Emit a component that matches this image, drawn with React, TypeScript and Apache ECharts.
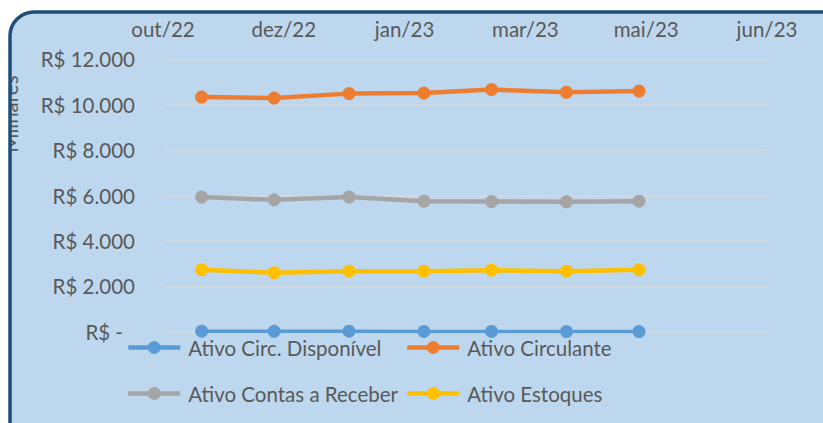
import React, { useEffect, useRef } from "react";
import * as echarts from "echarts";

const axisStart = "2022-10-15";
const axisSpanDays = 250;
const tickStepDays = 50;
const monthNames = ["jan", "fev", "mar", "abr", "mai", "jun", "jul", "ago", "set", "out", "nov", "dez"];
const dates = ["2022-10-31", "2022-11-30", "2022-12-31", "2023-01-31", "2023-02-28", "2023-03-31", "2023-04-30"];

const seriesNames = ["Ativo Circ. Disponível", "Ativo Circulante", "Ativo Contas a Receber", "Ativo Estoques"];
const disponivel = [20, 15, 25, 10, 10, 5, 5];
const circulante = [10337, 10293, 10488, 10514, 10665, 10545, 10603];
const contasReceber = [5929, 5810, 5929, 5752, 5735, 5721, 5752];
const estoques = [2727, 2594, 2665, 2665, 2710, 2665, 2727];
const colors = ["#5B9BD5", "#ED7D31", "#A5A5A5", "#FFC000"];

const DAY = 86400000;
const startMs = Date.parse(axisStart + "T00:00:00Z");
const toDay = (d: string) => Math.round((Date.parse(d + "T00:00:00Z") - startMs) / DAY);
const fmtDate = (v: number) => {
  const dt = new Date(startMs + v * DAY);
  return monthNames[dt.getUTCMonth()] + "/" + String(dt.getUTCFullYear()).slice(2);
};
const fmtMoney = (v: number) =>
  v === 0 ? "{z|R$ -}" : "R$ " + String(v).replace(/\B(?=(\d{3})+(?!\d))/g, ".");

const FONT = "Lato, 'Open Sans', sans-serif";
const FS = 20.5;
const TXT = "#595959";

export default function App() {
  const ref = useRef<HTMLDivElement>(null);
  useEffect(() => {
    if (!ref.current) return;
    const chart = echarts.init(ref.current, undefined, { renderer: "svg" });
    const allValues = [disponivel, circulante, contasReceber, estoques];
    const series = allValues.map((vals, i) => ({
      name: seriesNames[i],
      type: "line",
      data: vals.map((v, j) => [toDay(dates[j]), v]),
      symbol: "circle",
      symbolSize: 13,
      showSymbol: true,
      lineStyle: { width: i === 0 ? 3.5 : 4.5, color: colors[i] },
      itemStyle: { color: colors[i] },
      z: 3,
    }));
    const legendCommon = {
      orient: "vertical",
      padding: 0,
      itemWidth: 52,
      itemHeight: 16,
      itemGap: 25,
      top: 337,
      lineStyle: { width: 4.5 },
      textStyle: { color: TXT, fontSize: FS, fontFamily: FONT, lineHeight: 20, padding: [0, 0, 0, 3] },
    };
    chart.setOption({
      animation: false,
      backgroundColor: "#FFFFFF",
      textStyle: { fontFamily: FONT },
      graphic: [
        {
          type: "rect",
          z: -10,
          shape: { x: 10, y: 12, width: 840, height: 450, r: 24 },
          style: { fill: "#BDD7EE" },
        },
        {
          type: "text",
          z: -9,
          x: 10,
          y: 114,
          rotation: Math.PI / 2,
          style: {
            text: "Milhares",
            fill: TXT,
            font: FS + "px " + FONT,
            align: "center",
            verticalAlign: "middle",
          },
        },
        {
          type: "rect",
          z: -8,
          shape: { x: 0, y: 0, width: 10, height: 423 },
          style: { fill: "#FFFFFF" },
        },
        {
          type: "rect",
          z: -7,
          shape: { x: 10, y: 12, width: 840, height: 450, r: 24 },
          style: { fill: "none", stroke: "#1F4E79", lineWidth: 3.5 },
        },
      ],
      grid: { left: 163, right: 56, top: 59.3, bottom: 91.3, containLabel: false },
      xAxis: {
        type: "value",
        position: "top",
        min: 0,
        max: axisSpanDays,
        interval: tickStepDays,
        axisLine: { show: false },
        axisTick: { show: false },
        splitLine: { show: false },
        axisLabel: { color: TXT, fontSize: FS, fontFamily: FONT, margin: 20, formatter: fmtDate },
      },
      yAxis: {
        type: "value",
        min: 0,
        max: 12000,
        interval: 2000,
        axisLine: { show: false },
        axisTick: { show: false },
        splitLine: { lineStyle: { color: "#D9D9D9", width: 1.5 } },
        axisLabel: {
          color: TXT,
          fontSize: FS,
          fontFamily: FONT,
          margin: 28,
          formatter: fmtMoney,
          rich: { z: { color: TXT, fontSize: FS, fontFamily: FONT, padding: [0, 12, 0, 0] } },
        },
      },
      legend: [
        { ...legendCommon, left: 126, data: [seriesNames[0], seriesNames[2]] },
        { ...legendCommon, left: 405, data: [seriesNames[1], seriesNames[3]] },
      ],
      series,
    });
    return () => chart.dispose();
  }, []);
  return (
    <div
      ref={ref}
      style={{ position: "fixed", left: 0, top: 0, width: 823, height: 423 }}
    />
  );
}
